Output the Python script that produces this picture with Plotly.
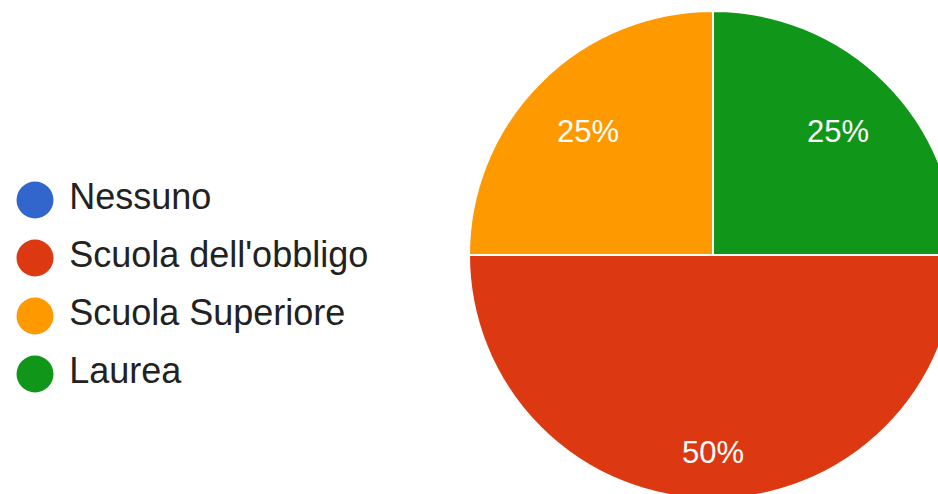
import math
import plotly.graph_objects as go

labels = ["Nessuno", "Scuola dell'obbligo", "Scuola Superiore", "Laurea"]
values = [0, 2, 1, 1]
colors = ["#3366cc", "#dc3912", "#ff9900", "#109618"]

total = sum(values)
shares = [v / total for v in values]
pct_text = [f"{round(100 * s)}%" if s > 0 else "" for s in shares]

W, H = 960, 500
# pie placement (pixels): centre and radius
CX, CY, R = 713, 255, 244
START_DEG = 90  # first slice starts at 3 o'clock, going clockwise

fig = go.Figure()

fig.add_trace(go.Pie(
    labels=labels,
    values=values,
    textinfo="none",
    marker=dict(colors=colors, line=dict(color="white", width=2)),
    sort=False,
    direction="clockwise",
    rotation=START_DEG,
    showlegend=False,
    hoverinfo="label+percent",
    domain=dict(x=[(CX - R) / W, (CX + R) / W], y=[(H - CY - R) / H, (H - CY + R) / H]),
))

# slice labels placed like Google Charts (further out than plotly's default)
annotations = []
acc = 0.0
for s, t in zip(shares, pct_text):
    mid = START_DEG + 360 * (acc + s / 2)
    acc += s
    if not t:
        continue
    rf = 0.65 + 0.3 * s
    px = CX + rf * R * math.sin(math.radians(mid))
    py = CY - rf * R * math.cos(math.radians(mid)) + 2
    annotations.append(dict(
        x=px / W, y=1 - py / H, xref="paper", yref="paper",
        text=t, showarrow=False, xanchor="center", yanchor="middle",
        font=dict(family="Liberation Sans, Arial, sans-serif", size=31, color="white"),
    ))

# custom legend with round swatches
fig.add_trace(go.Scatter(
    x=[0] * len(labels),
    y=list(range(len(labels))),
    mode="markers+text",
    marker=dict(symbol="circle", size=37, color=colors, line=dict(width=0)),
    text=[" " + l for l in labels],
    textposition="middle right",
    textfont=dict(family="Liberation Sans, Arial, sans-serif", size=36, color="#222222"),
    showlegend=False,
    hoverinfo="skip",
    cliponaxis=False,
))

fig.update_layout(
    width=W,
    height=H,
    margin=dict(l=0, r=0, t=0, b=0),
    paper_bgcolor="white",
    plot_bgcolor="white",
    annotations=annotations,
    xaxis=dict(visible=False, domain=[0, 0.48], range=[-1, 0.48 * W / 35 - 1], fixedrange=True),
    yaxis=dict(visible=False, domain=[0, 1], range=[(H - 200) / 58, -200 / 58], fixedrange=True),
)

fig.write_html(
    "out.html",
    config={"displayModeBar": False},
    post_script="document.body.style.margin='0';document.body.style.overflow='hidden';",
)
